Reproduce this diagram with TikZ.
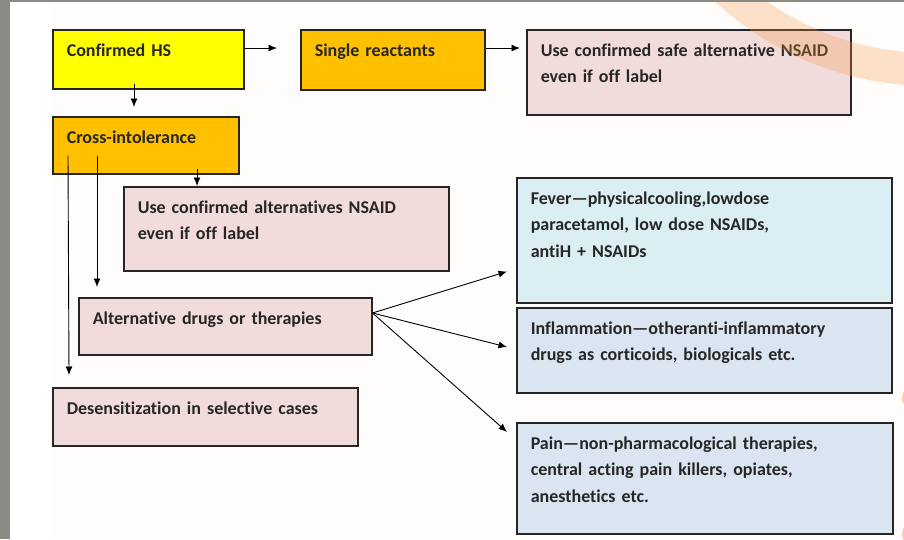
\documentclass[tikz,border=0pt]{standalone}
\usepackage{fontspec}
\setmainfont{Carlito}[Ligatures={TeX,NoCommon}]
\usetikzlibrary{positioning, arrows.meta}

\definecolor{hsyellow}{HTML}{FFFF00}
\definecolor{crossorange}{HTML}{FFC000}
\definecolor{rosefill}{HTML}{F2DCDB}
\definecolor{feverblue}{HTML}{DAEEF3}
\definecolor{paleblue}{HTML}{DBE5F1}
\definecolor{slidegray}{HTML}{8A8B85}
\definecolor{offwhite}{HTML}{FEFDFB}
\definecolor{decoorange}{HTML}{F79646}

\begin{document}
\begin{tikzpicture}[x=1pt, y=-1pt,
    box/.style={draw=black!85, line width=1.5pt, anchor=north west, align=left,
        inner xsep=14pt, inner ysep=0pt, text height=26.5pt, text=black!85,
        font=\bfseries\fontsize{18}{26.5}\selectfont},
    boxsize/.style 2 args={text width=#1pt-28pt, text depth=#2pt-26.5pt},
    arr/.style={line width=0.9pt, -{Latex[length=8.5pt, width=7pt]}},
    deco/.style={fill=decoorange, opacity=0.28}
]

% Slide background
\useasboundingbox (0,0) rectangle (904,539);
\fill[slidegray] (0,0) rectangle (904,539);
\fill[white] (10,2) rectangle (904,539);
\fill[offwhite] (51,2) rectangle (904,539);

% Boxes
\node[box, fill=hsyellow, boxsize={191}{59}] (hs) at (52,29) {Confirmed HS};
\node[box, fill=crossorange, boxsize={184}{60}] (single) at (300,29) {Single reactants};
\node[box, fill=rosefill, boxsize={324}{85}] (safe) at (526,29) {Use confirmed safe alternative NSAID\\even if off label};
\node[box, fill=crossorange, boxsize={186}{57}] (cross) at (52,116) {Cross-intolerance};
\node[box, fill=rosefill, boxsize={325}{84}] (altnsaid) at (123,186) {Use confirmed alternatives NSAID\\even if off label};
\node[box, fill=rosefill, boxsize={293}{57}] (altdrugs) at (78,297) {Alternative drugs or therapies};
\node[box, fill=rosefill, boxsize={305}{58}] (desens) at (52,387) {Desensitization in selective cases};
\node[box, fill=feverblue, boxsize={375}{125}] (fever) at (516,177) {Fever—physicalcooling,lowdose\\paracetamol, low dose NSAIDs,\\antiH + NSAIDs};
\node[box, fill=paleblue, boxsize={375}{85}] (inflam) at (516,307) {Inflammation—otheranti-inflammatory\\drugs as corticoids, biologicals etc.};
\node[box, fill=paleblue, boxsize={376}{111}] (pain) at (516,422) {Pain—non-pharmacological therapies,\\central acting pain killers, opiates,\\anesthetics etc.};

% Arrows
\draw[arr] ([yshift=-19pt]hs.north east) -- ([xshift=-23pt,yshift=-19pt]single.north west);
\draw[arr] ([yshift=-19pt]single.north east) -- ([xshift=-6pt,yshift=-19pt]safe.north west);
\draw[arr] ([xshift=82pt,yshift=6pt]hs.south west) -- ([xshift=82pt,yshift=9pt]cross.north west);
\draw[arr] ([xshift=145pt,yshift=6pt]cross.south west) -- ([xshift=74pt]altnsaid.north west);
\draw[arr] ([xshift=45pt,yshift=19pt]cross.south west) -- ([xshift=19pt,yshift=10pt]altdrugs.north west);
\draw[arr] ([xshift=16pt,yshift=19pt]cross.south west) -- ([xshift=17pt,yshift=12pt]desens.north west);
\draw[arr] ([yshift=-16pt]altdrugs.north east) -- ([xshift=-9pt,yshift=32pt]fever.south west);
\draw[arr] ([yshift=-16pt]altdrugs.north east) -- ([xshift=-9pt,yshift=-40pt]inflam.north west);
\draw[arr] ([yshift=-16pt]altdrugs.north east) -- ([xshift=-9pt,yshift=-10pt]pain.north west);

% Slide decoration
\begin{scope}
  \clip (10,2) rectangle (904,539);
  \fill[deco] (930,-230) ++(140:316) arc[start angle=140, end angle=90, radius=316]
    -- ++(90:-33) arc[start angle=90, end angle=140, radius=283] -- cycle;
  \fill[deco, opacity=0.45] (907,398) ellipse[x radius=5, y radius=8];
  \fill[deco, opacity=0.45] (907,534) ellipse[x radius=5, y radius=8];
\end{scope}

\end{tikzpicture}
\end{document}
